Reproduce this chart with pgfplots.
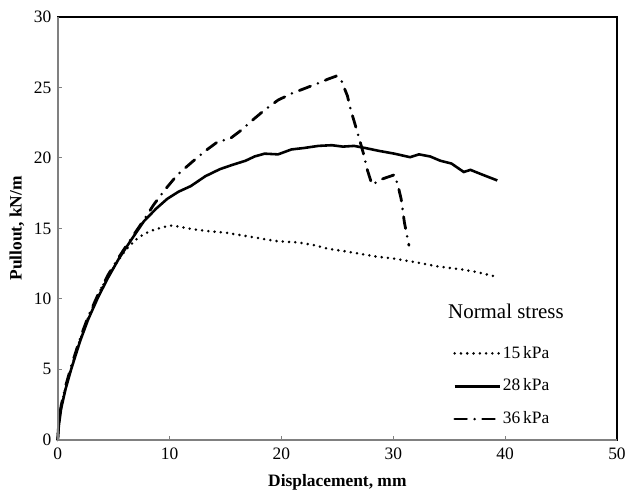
\documentclass[border=0pt]{standalone}
\usepackage{pgfplots}
\pgfplotsset{compat=1.18}
\usepackage{fontspec}
\setmainfont{Liberation Serif}
\begin{document}
\begin{tikzpicture}
\begin{axis}[
  scale only axis, width=562pt, height=425pt,
  xmin=0, xmax=50, ymin=0, ymax=30,
  xtick={0,10,...,50}, ytick={0,5,...,30},
  tick align=inside, xtick pos=bottom, ytick pos=left,
  major tick length=4pt,
  tick style={gray, line width=0.8pt},
  axis line style={black, line width=1.4pt},
  /pgf/number format/assume math mode=true,
  ticklabel style={font=\fontsize{17.5}{18}\selectfont},
  yticklabel style={xshift=-3pt},
  xticklabel style={yshift=-5pt},
  xlabel={Displacement, mm}, ylabel={Pullout, kN/m},
  label style={font=\fontsize{17.5}{18}\selectfont\bfseries},
  xlabel style={at={(axis description cs:0.5,-0.101)}, anchor=center},
  ylabel style={at={(axis description cs:-0.073,0.5)}, anchor=center},
  clip=false,
  legend image code/.code={\draw[#1] (0pt,0pt) -- (46pt,0pt);},
  legend style={at={(axis cs:35.35,6.8)}, anchor=north west, draw=none, fill=none,
    inner sep=0pt, row sep=14.5pt, font=\fontsize{17.5}{18}\selectfont,
    nodes={inner sep=1pt, text height=13pt, text depth=3.5pt}},
  legend cell align=left,
]
\addplot[black, line width=2.8pt, line cap=round, dash pattern=on 0pt off 6.3pt] coordinates {
(0,0) (0.1,1.2) (0.3,2.3) (0.7,3.7) (1.2,5.1) (2.0,7.1) (2.7,8.6) (3.6,10.3) (4.5,11.6)
(5.3,12.6) (6.1,13.5) (7.0,14.2) (7.7,14.6) (8.6,14.9) (9.5,15.1) (10.2,15.2) (11.0,15.1)
(12.0,14.95) (13.5,14.8) (15.0,14.7) (16.5,14.5) (18.0,14.3) (19.5,14.1) (21.5,14.0)
(23.0,13.8) (24.2,13.55) (25.5,13.4) (27.0,13.2) (28.5,13.0) (30.1,12.85) (32.0,12.6)
(34.0,12.3) (36.0,12.1) (37.5,11.9) (39.3,11.55)
};
\addlegendentry{15\,kPa}
\addplot[black, line width=2.6pt] coordinates {
(0,0) (0.1,1.0) (0.3,2.2) (0.7,3.6) (1.2,5.0) (2.0,7.0) (2.7,8.5) (3.6,10.1) (4.5,11.5)
(5.5,12.9) (6.5,14.1) (7.7,15.5) (8.8,16.4) (9.8,17.1) (10.8,17.6) (11.9,18.0) (13.2,18.7)
(14.5,19.2) (15.6,19.5) (16.8,19.8) (17.6,20.1) (18.5,20.3) (19.7,20.25) (20.9,20.6)
(22.0,20.7) (23.3,20.85) (24.5,20.9) (25.5,20.8) (26.5,20.85) (27.5,20.7) (28.7,20.5)
(30.1,20.3) (31.5,20.05) (32.3,20.25) (33.3,20.1) (34.2,19.8) (35.2,19.6) (36.3,19.0)
(36.9,19.15) (38.0,18.8) (39.3,18.4)
};
\addlegendentry{28\,kPa}
\addplot[black, line width=2.8pt, line cap=round, dash pattern=on 12pt off 8pt on 0pt off 8pt] coordinates {
(0,0) (0.1,1.3) (0.3,2.4) (0.7,3.8) (1.2,5.2) (2.0,7.2) (2.7,8.7) (3.6,10.3) (4.5,11.7)
(5.5,13.0) (6.5,14.2) (7.7,15.6) (8.6,16.7) (9.65,17.8) (10.7,18.8) (12.0,19.7) (13.2,20.5)
(14.4,21.2) (15.3,21.3) (16.3,21.9) (17.3,22.6) (18.5,23.4) (19.7,24.1) (21.0,24.6)
(22.0,24.9) (23.3,25.3) (24.2,25.6) (24.9,25.8) (25.3,25.6) (25.9,24.4) (26.2,23.4)
(26.8,21.8) (27.3,20.4) (27.7,19.1) (28.1,18.1) (29.0,18.5) (30.1,18.8) (30.4,18.1)
(30.7,17.1) (31.0,15.4) (31.4,13.8)
};
\addlegendentry{36\,kPa}
\draw[gray, line width=2.4pt] (rel axis cs:0,1) -- (rel axis cs:0,0) -- (rel axis cs:1,0);
\node[anchor=west, font=\fontsize{21}{23}\selectfont] at (axis cs:34.6,9.1) {Normal stress};
\path (rel axis cs:-0.1032,-0.1294) rectangle (rel axis cs:1.016,1.04);
\end{axis}
\end{tikzpicture}
\end{document}
